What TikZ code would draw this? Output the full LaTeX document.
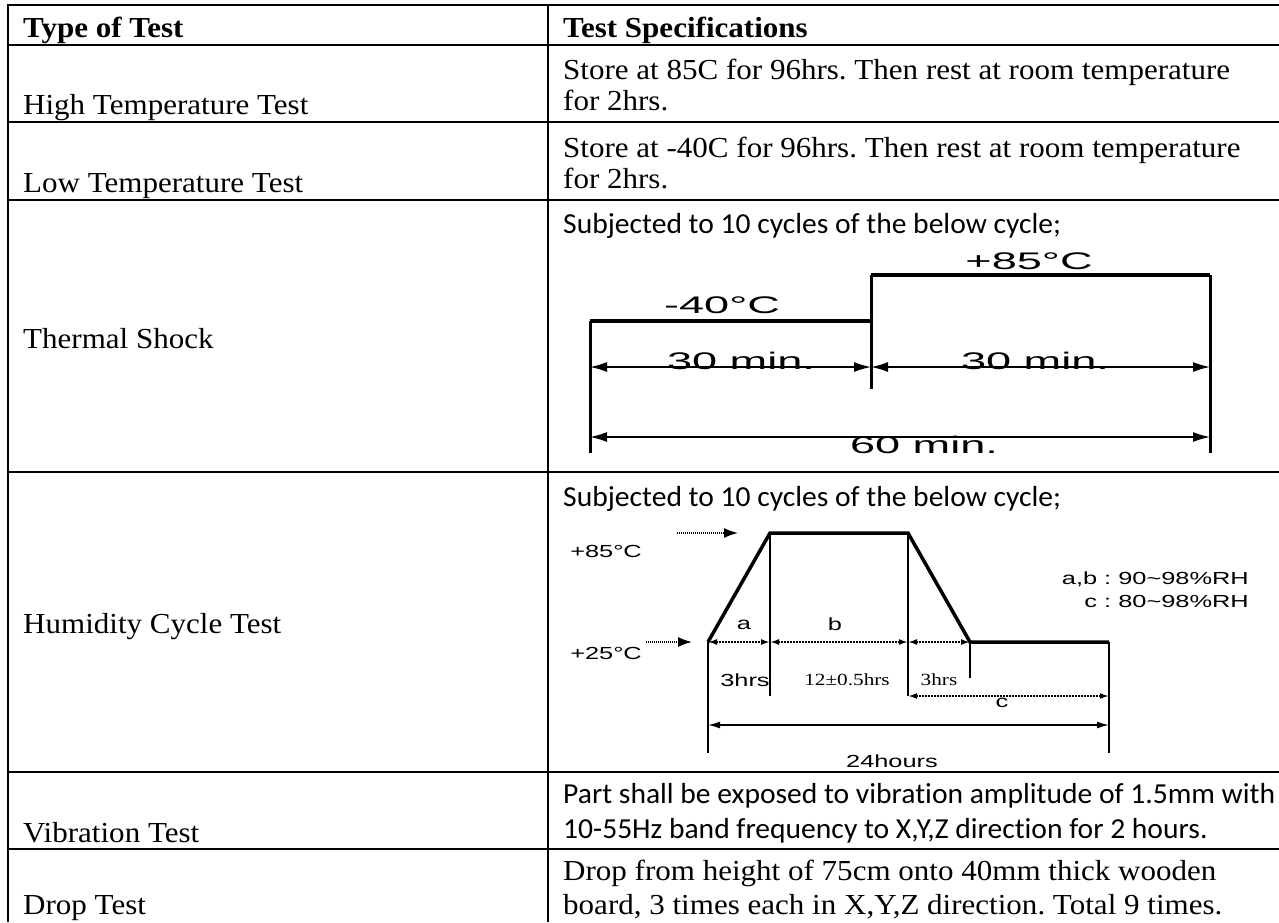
\documentclass[tikz,border=0pt]{standalone}
\usepackage{fontspec}
\setmainfont[FakeStretch=1.07]{Liberation Serif}
\newfontfamily\calfont[FakeStretch=1.02, Ligatures=NoCommon]{Carlito}
\newfontfamily\shockfont[FakeStretch=1.88]{Liberation Sans}
\newfontfamily\humfont[FakeStretch=1.45]{Liberation Sans}
\newfontfamily\hrsfont[FakeStretch=1.25]{Liberation Serif}
\usetikzlibrary{arrows.meta}
\frenchspacing
\tikzstyle{rule} = [line width=2pt]
\tikzstyle{cell} = [anchor=base west, inner sep=0pt, font=\fontsize{29}{33}\selectfont]
\tikzstyle{head} = [cell, font=\fontsize{29}{33}\selectfont\bfseries]
\tikzstyle{calcell} = [cell, font=\calfont\fontsize{29}{33}\selectfont]
\tikzstyle{shocklbl} = [inner sep=0pt, font=\shockfont\fontsize{24}{28}\selectfont]
\tikzstyle{humlbl} = [inner sep=0pt, font=\humfont\fontsize{17.5}{20}\selectfont]
\tikzstyle{hrslbl} = [inner sep=0pt, font=\hrsfont\fontsize{17}{20}\selectfont]
\tikzstyle{profile} = [line width=4pt]
\tikzstyle{edge} = [line width=3pt]
\tikzstyle{thin} = [line width=2pt]
\tikzstyle{dim} = [<->, >={Latex[length=17pt,width=10pt]}, line width=1.5pt]
\tikzstyle{hdim} = [<->, >={Latex[length=12pt,width=7pt]}, line width=1.5pt]
\tikzstyle{dotdim} = [<->, >={Latex[length=9pt,width=6pt]}, line width=2pt, dash pattern=on 1.5pt off 1.5pt]
\tikzstyle{pointer} = [->, >={Latex[length=14pt,width=10pt]}, line width=1.5pt, dash pattern=on 1pt off 1pt]

\begin{document}
\begin{tikzpicture}[x=1pt,y=-1pt]
        \useasboundingbox (0,0) rectangle (1279,922);
        % table rules
        \foreach \y in {5,45,122,200,472,772,849}
        {\draw[rule] (8,\y) -- (1279,\y);}
        \draw[rule] (8,4) -- (8,922);
        \draw[rule] (548,4) -- (548,922);

        % header and rows
        \node[head] (typehd) at (23,37) {Type of Test};
        \node[head] (spechd) at (563,37) {Test Specifications};

        \node[cell] (hitest) at (23,114) {High Temperature Test};
        \node[cell] (hispecA) at (563,79) {Store at 85C for 96hrs. Then rest at room temperature};
        \node[cell] (hispecB) at (563,110) {for 2hrs.};

        \node[cell] (lotest) at (23,192) {Low Temperature Test};
        \node[cell] (lospecA) at (563,157) {Store at -40C for 96hrs. Then rest at room temperature};
        \node[cell] (lospecB) at (563,188) {for 2hrs.};

        \node[cell] (shocktest) at (23,348) {Thermal Shock};
        \node[calcell] (shockspec) at (563,233) {Subjected to 10 cycles of the below cycle;};

        \node[cell] (humtest) at (23,633) {Humidity Cycle Test};
        \node[calcell] (humspec) at (563,506) {Subjected to 10 cycles of the below cycle;};

        \node[cell] (vibtest) at (23,842) {Vibration Test};
        \node[calcell] (vibspecA) at (563,803) {Part shall be exposed to vibration amplitude of 1.5mm with};
        \node[calcell] (vibspecB) at (563,838) {10-55Hz band frequency to X,Y,Z direction for 2 hours.};

        \node[cell] (droptest) at (23,914) {Drop Test};
        \node[cell] (dropspecA) at (563,880) {Drop from height of 75cm onto 40mm thick wooden};
        \node[cell] (dropspecB) at (563,914) {board, 3 times each in X,Y,Z direction. Total 9 times.};

        % thermal shock cycle
        \coordinate (tsA) at (590,453);
        \coordinate (tsB) at (590,321);
        \coordinate (tsC) at (871,321);
        \coordinate (tsD) at (871,275);
        \coordinate (tsE) at (1210,275);
        \coordinate (tsF) at (1210,453);
        \coordinate (tsM) at (871,389);
        \coordinate (h30L) at (590,367);
        \coordinate (h30M) at (871,367);
        \coordinate (h30R) at (1210,367);
        \coordinate (h60L) at (590,437);
        \coordinate (h60R) at (1210,437);
        \draw[edge] (tsA) -- (tsB);
        \draw[edge] (tsD) -- (tsM);
        \draw[edge] (tsE) -- (tsF);
        \draw[profile] (tsB) -- (tsC);
        \draw[profile] (tsD) -- (tsE);
        \draw[dim] (h30L) -- (h30M);
        \draw[dim] (h30M) -- (h30R);
        \draw[dim] (h60L) -- (h60R);
        \node[shocklbl] (lowlvl) at (722,305) {-40°C};
        \node[shocklbl] (highlvl) at (1029,261) {+85°C};
        \node[shocklbl] (lowtime) at (741,361) {30 min.};
        \node[shocklbl] (hightime) at (1035,361) {30 min.};
        \node[shocklbl] (fulltime) at (924,445) {60 min.};

        % humidity cycle
        \coordinate (hcA) at (708,642);
        \coordinate (hcB) at (770,533);
        \coordinate (hcC) at (908,533);
        \coordinate (hcD) at (970,642);
        \coordinate (hcE) at (1109,642);
        \coordinate (hcA2) at (708,753);
        \coordinate (hcB2) at (770,696);
        \coordinate (hcC2) at (908,696);
        \coordinate (hcD2) at (970,678);
        \coordinate (hcE2) at (1109,753);
        \coordinate (hcCc) at (908,696);
        \coordinate (hcEc) at (1109,696);
        \coordinate (hc24L) at (708,725);
        \coordinate (hc24R) at (1109,725);
        \coordinate (p85s) at (677,533);
        \coordinate (p85e) at (738,533);
        \coordinate (p25s) at (646,642);
        \coordinate (p25e) at (692,642);
        \draw[thin] (hcA) -- (hcA2);
        \draw[thin] (hcB) -- (hcB2);
        \draw[thin] (hcC) -- (hcC2);
        \draw[thin] (hcD) -- (hcD2);
        \draw[thin] (hcE) -- (hcE2);
        \draw[profile, line width=3.5pt] (hcA) -- (hcB) -- (hcC) -- (hcD) -- (hcE);
        \draw[pointer] (p85s) -- (p85e);
        \draw[pointer] (p25s) -- (p25e);
        \draw[dotdim] (hcA) -- (hcB |- hcA);
        \draw[dotdim] (hcB |- hcA) -- (hcC |- hcA);
        \draw[dotdim] (hcC |- hcA) -- (hcD);
        \draw[dotdim] (hcCc) -- (hcEc);
        \draw[hdim] (hc24L) -- (hc24R);
        \node[humlbl] (hum85) at (606,551) {+85°C};
        \node[humlbl] (hum25) at (606,653) {+25°C};
        \node[humlbl] (rampa) at (744,625) {a};
        \node[humlbl] (dwellb) at (835,624) {b};
        \node[humlbl] (restc) at (1002,703) {c};
        \node[humlbl] (rampup) at (745,680) {3hrs};
        \node[hrslbl] (dwell) at (847,680) {12±0.5hrs};
        \node[hrslbl] (rampdown) at (939,680) {3hrs};
        \node[humlbl] (total) at (892,761) {24hours};
        \node[humlbl, anchor=east] (rhab) at (1249,579) {a,b : 90\textasciitilde98\%RH};
        \node[humlbl, anchor=east] (rhc) at (1249,601) {c : 80\textasciitilde98\%RH};
\end{tikzpicture}
\end{document}
